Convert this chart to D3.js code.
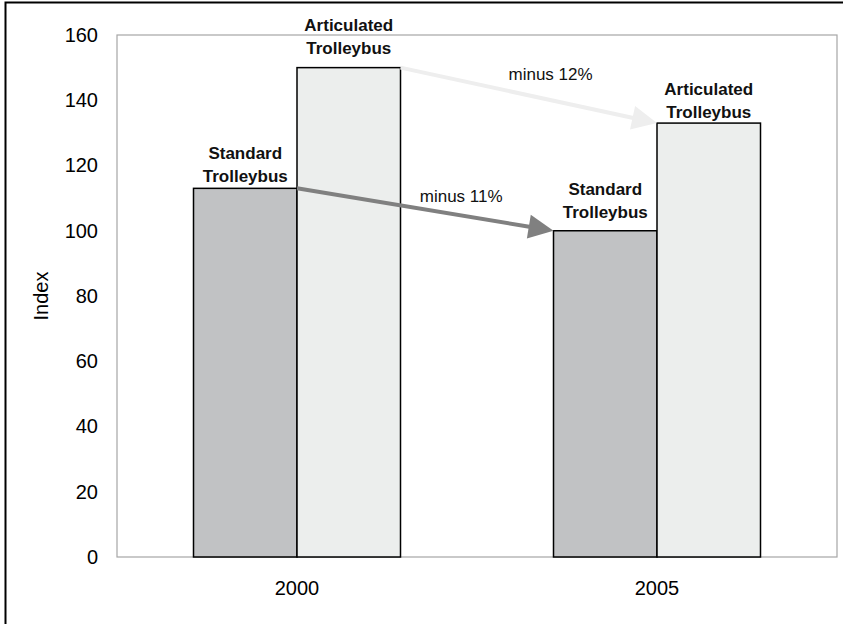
<!DOCTYPE html>
<html>
<head>
<meta charset="utf-8">
<script src="https://cdn.jsdelivr.net/npm/d3@7"></script>
<style>
  body { margin: 0; background: #fff; }
  svg { display: block; font-family: "Liberation Sans", Arial, sans-serif; }
</style>
</head>
<body>
<svg id="chart" width="843" height="624"></svg>
<script>
// data
const years = ["2000", "2005"]
const seriesNames = ["Standard", "Articulated"]
const standard = [113, 100]
const articulated = [150, 133]
const yTicks = [0, 20, 40, 60, 80, 100, 120, 140, 160]
const changeLabels = ["minus 11%", "minus 12%"]

const fills = ["#c1c2c4", "#eceeed"]
const arrowColors = ["#808080", "#eeeeee"]
// gap between bar top and its label, per series per year
const labelGap = [[6, 13], [14, 5]]
// where the change text sits along the arrow and how far above it
const changePos = [{ t: 0.64, dy: -13 }, { t: 0.585, dy: -20 }]

const svg = d3.select("#chart")
const margin = { top: 35, left: 117, right: 6, bottom: 67 }
const W = 843, H = 624
const plotW = 837 - margin.left, plotH = 557 - margin.top

// outer frame, cut off at right and bottom like the source
svg.append("rect")
    .attr("x", 5.5).attr("y", 2.5)
    .attr("width", W + 10).attr("height", H + 10)
    .attr("fill", "none").attr("stroke", "#000").attr("stroke-width", 2)

const g = svg.append("g").attr("transform", `translate(${margin.left},${margin.top})`)

const x0 = d3.scaleBand().domain(years).range([0, plotW])
const groupW = x0.bandwidth() * 0.575
const x1 = d3.scaleBand().domain(seriesNames)
    .range([(x0.bandwidth() - groupW) / 2, (x0.bandwidth() + groupW) / 2])
const y = d3.scaleLinear().domain([0, 160]).range([plotH, 0])

// plot area border
g.append("rect")
    .attr("x", 0).attr("y", 0).attr("width", plotW).attr("height", plotH)
    .attr("fill", "none").attr("stroke", "#a6a6a6").attr("stroke-width", 1.2)

// y axis
const yAxis = g.append("g").call(d3.axisLeft(y).tickValues(yTicks).tickSize(0).tickPadding(19))
yAxis.select(".domain").remove()
yAxis.selectAll("text").attr("font-size", 20).attr("fill", "#000")
    .attr("font-family", "Liberation Sans, Arial, sans-serif")

// x axis
const xAxis = g.append("g").attr("transform", `translate(0,${plotH})`)
    .call(d3.axisBottom(x0).tickSize(0).tickPadding(24))
xAxis.select(".domain").remove()
xAxis.selectAll("text").attr("font-size", 20).attr("fill", "#000")
    .attr("font-family", "Liberation Sans, Arial, sans-serif")

svg.append("text")
    .attr("transform", `translate(48,${margin.top + plotH / 2}) rotate(-90)`)
    .attr("text-anchor", "middle")
    .attr("font-size", 20)
    .text("Index")

const values = [standard, articulated]
const bars = []
seriesNames.forEach((s, si) => {
    years.forEach((yr, yi) => {
        bars.push({ s, si, yr, yi, v: values[si][yi] })
    })
})

g.selectAll("rect.bar")
    .data(bars)
    .join("rect")
    .attr("class", "bar")
    .attr("x", d => x0(d.yr) + x1(d.s))
    .attr("y", d => y(d.v))
    .attr("width", x1.bandwidth())
    .attr("height", d => plotH - y(d.v))
    .attr("fill", d => fills[d.si])
    .attr("stroke", "#000")
    .attr("stroke-width", 1.5)

// bar labels
bars.forEach(d => {
    const cx = x0(d.yr) + x1(d.s) + x1.bandwidth() / 2
    const base = y(d.v) - labelGap[d.si][d.yi]
    const t = g.append("text")
        .attr("text-anchor", "middle")
        .attr("font-size", 17)
        .attr("font-weight", "bold")
        .attr("fill", "#111")
    t.append("tspan").attr("x", cx).attr("y", base - 23).text(d.s)
    t.append("tspan").attr("x", cx).attr("y", base).text("Trolleybus")
})

// change arrows: top-right of 2000 bar to top-left of 2005 bar
seriesNames.forEach((s, si) => {
    const xs = x0(years[0]) + x1(s) + x1.bandwidth()
    const ys = y(values[si][0])
    const xe = x0(years[1]) + x1(s)
    const ye = y(values[si][1])
    const dx = xe - xs, dy = ye - ys
    const len = Math.hypot(dx, dy)
    const ux = dx / len, uy = dy / len
    const headL = 25, headW = 12
    const bx = xe - ux * headL, by = ye - uy * headL
    g.append("line")
        .attr("x1", xs).attr("y1", ys).attr("x2", bx + ux * 2).attr("y2", by + uy * 2)
        .attr("stroke", arrowColors[si]).attr("stroke-width", 4)
    g.append("path")
        .attr("d", d3.line()([
            [xe, ye],
            [bx - uy * headW, by + ux * headW],
            [bx + uy * headW, by - ux * headW]
        ]) + "Z")
        .attr("fill", arrowColors[si])

    const p = changePos[si]
    g.append("text")
        .attr("x", xs + dx * p.t)
        .attr("y", ys + dy * p.t + p.dy)
        .attr("text-anchor", "middle")
        .attr("font-size", 17)
        .attr("fill", "#111")
        .text(changeLabels[si])
})
</script>
</body>
</html>
